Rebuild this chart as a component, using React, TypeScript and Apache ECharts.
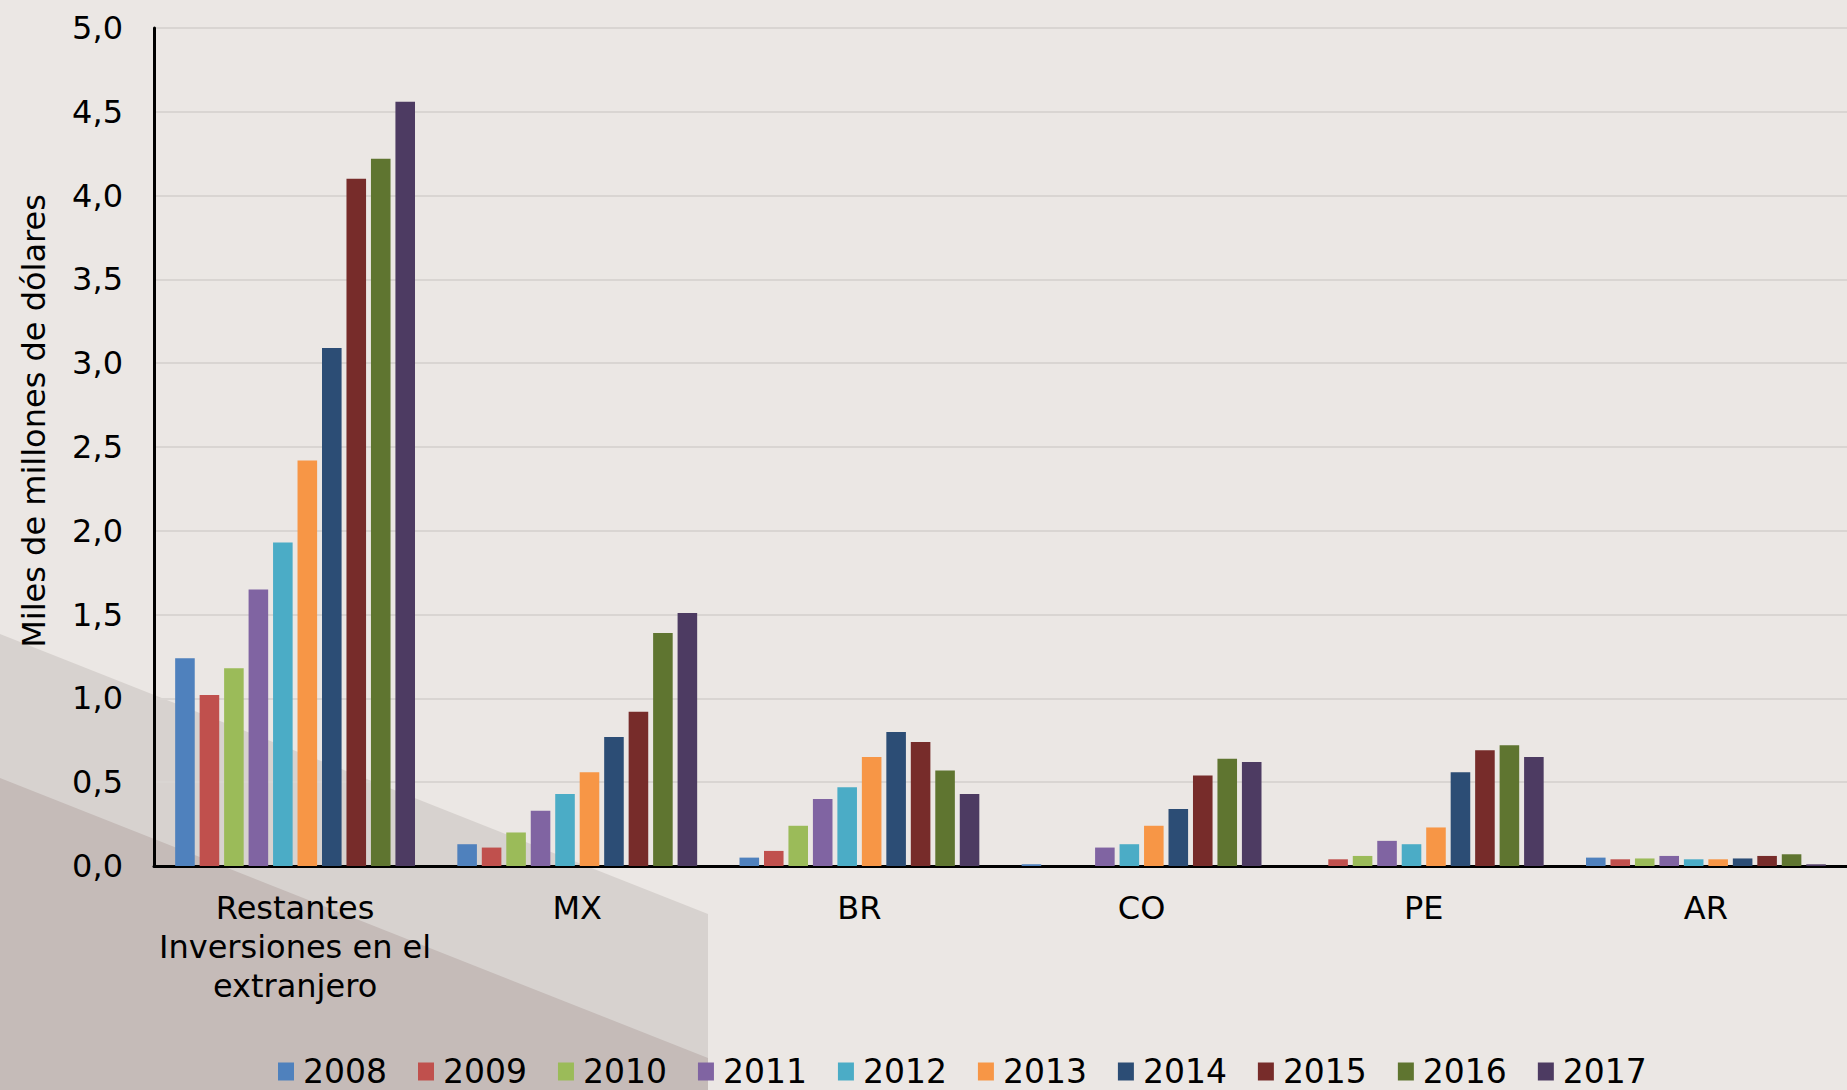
import React, { useEffect, useRef } from "react";
import * as echarts from "echarts";

const categories = ["Restantes\nInversiones en el\nextranjero", "MX", "BR", "CO", "PE", "AR"];
const years = ["2008", "2009", "2010", "2011", "2012", "2013", "2014", "2015", "2016", "2017"];
const colors = ["#4F81BD", "#C0504D", "#9BBB59", "#8064A2", "#4BACC6", "#F79646", "#2C4D75", "#772C2A", "#5F7530", "#4D3B62"];

const v2008 = [1.24, 0.13, 0.05, 0.01, 0, 0.05];
const v2009 = [1.02, 0.11, 0.09, 0, 0.04, 0.04];
const v2010 = [1.18, 0.2, 0.24, 0, 0.06, 0.045];
const v2011 = [1.65, 0.33, 0.4, 0.11, 0.15, 0.06];
const v2012 = [1.93, 0.43, 0.47, 0.13, 0.13, 0.04];
const v2013 = [2.42, 0.56, 0.65, 0.24, 0.23, 0.04];
const v2014 = [3.09, 0.77, 0.8, 0.34, 0.56, 0.045];
const v2015 = [4.1, 0.92, 0.74, 0.54, 0.69, 0.06];
const v2016 = [4.22, 1.39, 0.57, 0.64, 0.72, 0.07];
const v2017 = [4.56, 1.51, 0.43, 0.62, 0.65, 0.01];
const values = [v2008, v2009, v2010, v2011, v2012, v2013, v2014, v2015, v2016, v2017];

const yTitle = "Miles de millones de dólares";

export default function App() {
  const ref = useRef<HTMLDivElement>(null);
  useEffect(() => {
    if (!ref.current) return;
    const chart = echarts.init(ref.current, undefined, { renderer: "svg" });
    const font = "DejaVu Sans";
    chart.setOption({
      animation: false,
      backgroundColor: "#EBE7E4",
      graphic: [
        {
          type: "polygon",
          z: -100,
          silent: true,
          shape: { points: [[0, 634], [708, 914], [708, 1090], [0, 1090]] },
          style: { fill: "#D7D2CF" },
        },
        {
          type: "polygon",
          z: -99,
          silent: true,
          shape: { points: [[0, 778], [708, 1058], [708, 1090], [0, 1090]] },
          style: { fill: "#C5BBB8" },
        },
        {
          type: "text",
          x: 34,
          y: 421,
          rotation: Math.PI / 2,
          style: {
            text: yTitle,
            font: `32px "${font}"`,
            fill: "#000",
            textAlign: "center",
            textVerticalAlign: "middle",
          },
        },
      ],
      legend: {
        data: years,
        left: 273,
        top: 1050,
        itemWidth: 16,
        itemHeight: 18,
        itemGap: 31,
        icon: "rect",
        textStyle: { fontFamily: font, fontSize: 33, color: "#000", padding: [0, 0, 0, 4] },
      },
      grid: { left: 154, right: -9, top: 28, bottom: 224, containLabel: false },
      xAxis: {
        type: "category",
        data: categories,
        axisLine: { lineStyle: { color: "#000", width: 3 } },
        axisTick: { show: false },
        axisLabel: {
          interval: 0,
          margin: 22,
          fontFamily: font,
          fontSize: 32,
          lineHeight: 39,
          color: "#000",
          align: "center",
        },
      },
      yAxis: {
        type: "value",
        min: 0,
        max: 5,
        interval: 0.5,
        axisLine: { show: true, lineStyle: { color: "#000", width: 3 } },
        axisTick: { show: false },
        splitLine: { lineStyle: { color: "#D9D5D2", width: 2 } },
        axisLabel: {
          margin: 31,
          fontFamily: font,
          fontSize: 32,
          color: "#000",
          formatter: (v: number) => v.toFixed(1).replace(".", ","),
        },
      },
      series: years.map((y, i) => ({
        name: y,
        type: "bar",
        data: values[i],
        barGap: "25%",
        barCategoryGap: "15%",
        itemStyle: { color: colors[i] },
      })),
    });
    return () => chart.dispose();
  }, []);
  return <div ref={ref} style={{ position: "absolute", left: 0, top: 0, width: 1847, height: 1090 }} />;
}
